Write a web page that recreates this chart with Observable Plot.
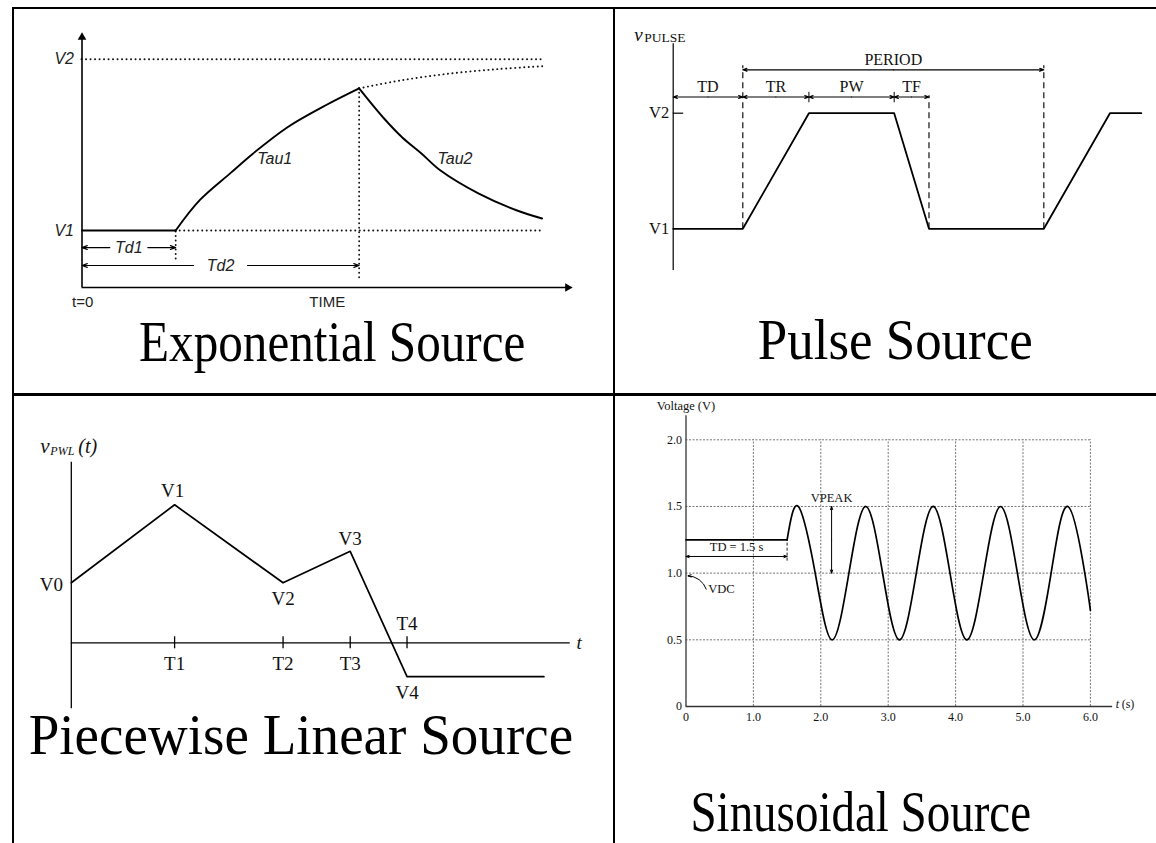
<!DOCTYPE html>
<html><head><meta charset="utf-8">
<script src="https://cdn.jsdelivr.net/npm/d3@7"></script>
<script src="https://cdn.jsdelivr.net/npm/@observablehq/plot@0.6"></script>
<style>
html,body{margin:0;padding:0;background:#fff;}
#stage{position:relative;width:1156px;height:843px;overflow:hidden;background:#fff;}
#stage svg{position:absolute;left:0;top:0;}
.bar{position:absolute;background:#000;}
.cap{position:absolute;font-family:"Liberation Serif","Times New Roman",serif;font-size:54px;line-height:40px;white-space:nowrap;color:#000;transform-origin:center center;}
</style></head><body><div id="stage"></div>
<script>
// ---------- Exponential source ----------
const expLevelNames = ["V1", "V2"];
const expLevels = [1, 4];
const expDelayNames = ["Td1", "Td2"];
const expDelays = [1.91, 5.65];
const expRiseT = [1.91, 2.40, 3.02, 3.49, 4.19, 4.96, 5.65];
const expRiseV = [1.00, 1.53, 2.00, 2.35, 2.81, 3.19, 3.49];
const expFallT = [5.65, 6.14, 6.53, 6.92, 7.31, 8.08, 8.87, 9.38];
const expFallV = [3.49, 2.98, 2.63, 2.35, 2.05, 1.65, 1.35, 1.21];
const expTrendT = [5.65, 6.5, 7.5, 8.5, 9.41];
const expTrendV = [3.49, 3.63, 3.75, 3.83, 3.88];
const expTimeEnd = 9.41, expAxisT = 10, expAxisV = 4.47;

// ---------- Pulse source ----------
const pulseLevelNames = ["V1", "V2"];
const pulseLevels = [1, 2];
const pulseT = [0, 2, 3.9, 6.35, 7.35, 10.65, 12.55, 13.45];
const pulseV = [1, 1, 2, 2, 1, 1, 2, 2];
const pulseSpanNames = ["TD", "TR", "PW", "TF"];
const pulseSpanStart = [0, 2, 3.9, 6.35];
const pulseSpanEnd = [2, 3.9, 6.35, 7.35];
const pulsePeriodName = "PERIOD";
const pulsePeriod = [2, 10.65];

// ---------- Piecewise linear source ----------
const pwlNames = ["V0", "V1", "V2", "V3", "V4"];
const pwlT = [0, 2, 4.1, 5.4, 6.5];
const pwlV = [2, 4.6, 2, 3.05, -1.13];
const pwlTickNames = ["T1", "T2", "T3", "T4"];
const pwlEndT = 9.15;

// ---------- Sinusoidal source ----------
const sinYTicks = [0, 0.5, 1.0, 1.5, 2.0];
const sinYTickLabels = ["0", "0.5", "1.0", "1.5", "2.0"];
const sinXTicks = [0, 1, 2, 3, 4, 5, 6];
const sinXTickLabels = ["0", "1.0", "2.0", "3.0", "4.0", "5.0", "6.0"];
const sinDelayT = [0, 1.5];
const sinDelayV = [1.25, 1.25];
const sinWaveT = [1.5, 1.667, 1.917, 2.167, 2.417, 2.667, 2.917, 3.167, 3.417, 3.667, 3.917, 4.167, 4.417, 4.667, 4.917, 5.167, 5.417, 5.667, 5.917, 6.0];
const sinWaveV = [1.25, 1.5, 1.0, 0.5, 1.0, 1.5, 1.0, 0.5, 1.0, 1.5, 1.0, 0.5, 1.0, 1.5, 1.0, 0.5, 1.0, 1.5, 1.0, 0.72];
const sinVDC = 1.0, sinVPeak = 1.5, sinTD = 1.5;

// ---------- helpers ----------
const W = 1156, H = 843;
const stage = document.getElementById("stage");
function panel({left, right, top, bottom, xDomain, yDomain, marks, style = {}}) {
  const svg = Plot.plot({
    width: W, height: H,
    marginLeft: left, marginRight: W - right, marginTop: top, marginBottom: H - bottom,
    x: {domain: xDomain, axis: null}, y: {domain: yDomain, axis: null},
    style: {background: "transparent", overflow: "visible", ...style},
    marks
  });
  stage.appendChild(svg);
}
const pts = (ts, vs) => ts.map((t, i) => ({t, v: vs[i]}));
const dotted = {stroke: "#111", strokeWidth: 1.9, strokeDasharray: "0.1,4.4", strokeLinecap: "round"};
const hersh = {fontFamily: "Liberation Sans, Arial, sans-serif", fill: "#222", fontSize: 15};
const serif = {fontFamily: "Liberation Serif, Times New Roman, serif", fill: "#111"};

// ---------- Panel 1: exponential ----------
{
  const rise = pts(expRiseT, expRiseV), fall = pts(expFallT, expFallV), trend = pts(expTrendT, expTrendV);
  const dimLevels = [0.70, 0.386];
  const gaps = [19, 27];
  const marks = [
    Plot.ruleY([expLevels[1]], {x1: 0, x2: expTimeEnd, y: d => d, ...dotted}),
    Plot.ruleY([expLevels[0]], {x1: expDelays[0], x2: expTimeEnd, y: d => d, ...dotted}),
    Plot.ruleX([expDelays[0]], {x: d => d, y1: 0.5, y2: expLevels[0], ...dotted}),
    Plot.ruleX([expDelays[1]], {x: d => d, y1: 0.17, y2: expRiseV[expRiseV.length - 1], ...dotted}),
    Plot.line(trend, {x: "t", y: "v", curve: "catmull-rom", ...dotted}),
    Plot.line(pts([0, expDelays[0]], [expLevels[0], expLevels[0]]), {x: "t", y: "v", strokeWidth: 1.9}),
    Plot.line(rise, {x: "t", y: "v", curve: "catmull-rom", strokeWidth: 1.9}),
    Plot.line(fall, {x: "t", y: "v", curve: "catmull-rom", strokeWidth: 1.9}),
    Plot.ruleX([0], {y1: 0, y2: expAxisV - 0.1, strokeWidth: 1.6}),
    Plot.ruleY([0], {x1: 0, x2: expAxisT - 0.1, strokeWidth: 1.6}),
    Plot.dot([0], {x: 0, y: expAxisV, symbol: "triangle", r: 3.2, fill: "#000", stroke: "none", dy: 4.8}),
    Plot.dot([0], {x: expAxisT, y: 0, symbol: "triangle", r: 3.2, fill: "#000", stroke: "none", rotate: 90, dx: -4.8}),
    Plot.text(expLevelNames, {x: 0, y: (d, i) => expLevels[i], text: d => d, dx: -8, textAnchor: "end", ...hersh, fontSize: 16, fontStyle: "italic"}),
    Plot.text(["Tau1"], {x: expRiseT[3], y: expRiseV[3], text: d => d, dx: 4, dy: 5, textAnchor: "start", ...hersh, fontSize: 16, fontStyle: "italic"}),
    Plot.text(["Tau2"], {x: expFallT[3], y: expFallV[3], text: d => d, dx: 16, dy: 5, textAnchor: "start", ...hersh, fontSize: 16, fontStyle: "italic"}),
    Plot.text(["t=0"], {x: 0, y: 0, text: d => d, dx: -10, dy: 15, textAnchor: "start", ...hersh}),
    Plot.text(["TIME"], {x: expAxisT / 2, y: 0, text: d => d, dy: 15, ...hersh}),
  ];
  expDelays.forEach((end, i) => {
    const lv = dimLevels[i];
    marks.push(
      Plot.arrow([{a: end / 2, b: 0}, {a: end / 2, b: end}], {x1: "a", x2: "b", y1: () => lv, y2: () => lv, insetStart: gaps[i], headLength: 7, headAngle: 40, strokeWidth: 1.2}),
      Plot.text([expDelayNames[i]], {x: end / 2, y: lv, text: d => d, ...hersh, fontSize: 16, fontStyle: "italic"})
    );
  });
  panel({left: 81.5, right: 572, top: 32, bottom: 287, xDomain: [0, expAxisT], yDomain: [0, expAxisV], marks});
}

// ---------- Panel 2: pulse ----------
{
  const wave = pts(pulseT, pulseV);
  const spanLevel = 2.14, periodLevel = 2.375;
  const dashed = {stroke: "#111", strokeWidth: 1.2, strokeDasharray: "6,4"};
  const spans = pulseSpanNames.map((name, i) => ({name, s: pulseSpanStart[i], e: pulseSpanEnd[i], m: (pulseSpanStart[i] + pulseSpanEnd[i]) / 2}));
  const arrowsOf = (arr, lv) => arr.flatMap(d => [{a: d.m, b: d.s, lv}, {a: d.m, b: d.e, lv}]);
  const period = [{name: pulsePeriodName, s: pulsePeriod[0], e: pulsePeriod[1], m: (pulsePeriod[0] + pulsePeriod[1]) / 2}];
  const marks = [
    Plot.ruleX([0], {y1: 0.64, y2: 2.6, strokeWidth: 1.2}),
    Plot.ruleY([pulseLevels[1]], {x1: 0, x2: 0.3, y: d => d, strokeWidth: 1.2}),
    Plot.ruleX([pulsePeriod[0], pulsePeriod[1]], {x: d => d, y1: pulseLevels[0], y2: periodLevel + 0.035, ...dashed}),
    Plot.ruleX([pulseSpanEnd[3]], {x: d => d, y1: pulseLevels[0], y2: spanLevel + 0.01, ...dashed}),
    Plot.ruleX([pulseSpanEnd[1], pulseSpanEnd[2]], {x: d => d, y1: spanLevel - 0.05, y2: spanLevel + 0.04, strokeWidth: 1}),
    Plot.line(wave, {x: "t", y: "v", strokeWidth: 1.8}),
    Plot.arrow(arrowsOf(spans, spanLevel), {x1: "a", x2: "b", y1: "lv", y2: "lv", headLength: 6, headAngle: 40, strokeWidth: 1.1}),
    Plot.arrow(arrowsOf(period, periodLevel), {x1: "a", x2: "b", y1: "lv", y2: "lv", headLength: 6, headAngle: 40, strokeWidth: 1.1}),
    Plot.text(spans, {x: "m", y: spanLevel, text: "name", dy: -10, ...serif, fontSize: 16}),
    Plot.text(period, {x: "m", y: periodLevel, text: "name", dy: -10, ...serif, fontSize: 16}),
    Plot.text(pulseLevelNames, {x: 0, y: (d, i) => pulseLevels[i], text: d => d, dx: -4, textAnchor: "end", ...serif, fontSize: 16.5}),
    Plot.text(["v"], {x: 0, y: 2.6, text: d => d, dx: -39, dy: -9, textAnchor: "start", ...serif, fontSize: 19, fontStyle: "italic"}),
    Plot.text(["PULSE"], {x: 0, y: 2.6, text: d => d, dx: -29, dy: -6, textAnchor: "start", ...serif, fontSize: 13.5}),
  ];
  panel({left: 672.7, right: 672.7 + 13.45 * 34.8, top: 343.9 - 2.6 * 115.6, bottom: 343.9, xDomain: [0, 13.45], yDomain: [0, 2.6], marks});
}

// ---------- Panel 3: piecewise linear ----------
{
  const path = pts([...pwlT, pwlEndT], [...pwlV, pwlV[pwlV.length - 1]]);
  const labelOff = [[-20, 2], [-2, -14], [0, 16], [0, -12], [0, 16]];
  const tickOff = [21, 21, 21, -19];
  const marks = [
    Plot.ruleX([0], {y1: -2.2, y2: 6.02, strokeWidth: 1.3}),
    Plot.ruleY([0], {x1: 0, x2: 9.66, strokeWidth: 1.3}),
    Plot.ruleX(pwlT.slice(1), {x: d => d, y1: -0.2, y2: 0.2, strokeWidth: 1.3}),
    Plot.line(path, {x: "t", y: "v", strokeWidth: 1.7}),
    ...pwlNames.map((name, i) => Plot.text([name], {x: pwlT[i], y: pwlV[i], text: d => d, dx: labelOff[i][0], dy: labelOff[i][1], ...serif, fontSize: 19})),
    ...pwlTickNames.map((name, i) => Plot.text([name], {x: pwlT[i + 1], y: 0, text: d => d, dy: tickOff[i], ...serif, fontSize: 19})),
    Plot.text(["t"], {x: 9.66, y: 0, text: d => d, dx: 9, ...serif, fontSize: 19, fontStyle: "italic"}),
    Plot.text(["v"], {x: 0, y: 6.02, text: d => d, dx: -31, dy: -16, textAnchor: "start", ...serif, fontSize: 21, fontStyle: "italic"}),
    Plot.text(["PWL"], {x: 0, y: 6.02, text: d => d, dx: -21, dy: -11, textAnchor: "start", ...serif, fontSize: 12, fontStyle: "italic"}),
    Plot.text(["(t)"], {x: 0, y: 6.02, text: d => d, dx: 7, dy: -16, textAnchor: "start", ...serif, fontSize: 20, fontStyle: "italic"}),
  ];
  panel({left: 70.8, right: 70.8 + 9.66 * 51.65, top: 642.3 - 6.02 * 30, bottom: 642.3 + 2.79 * 30, xDomain: [0, 9.66], yDomain: [-2.79, 6.02], marks});
}

// ---------- Panel 4: sinusoidal ----------
{
  const grid = {stroke: "#666", strokeWidth: 0.9, strokeDasharray: "2,1.5"};
  const marks = [
    Plot.ruleY(sinYTicks.slice(1), {x1: 0, x2: 6, y: d => d, ...grid}),
    Plot.ruleX(sinXTicks.slice(1), {x: d => d, y1: 0, y2: 2, ...grid}),
    Plot.ruleX([0], {y1: 0, y2: 2.18, strokeWidth: 1.3, stroke: "#333"}),
    Plot.ruleY([0], {x1: 0, x2: 6.33, strokeWidth: 1.3, stroke: "#333"}),
    Plot.text(sinYTickLabels, {x: 0, y: (d, i) => sinYTicks[i], text: d => d, dx: -4, textAnchor: "end", ...serif, fontSize: 12}),
    Plot.text(sinXTickLabels, {x: (d, i) => sinXTicks[i], y: 0, text: d => d, dy: 11, ...serif, fontSize: 12}),
    Plot.text(["t"], {x: 6.33, y: 0, text: d => d, dx: 3, dy: -2, textAnchor: "start", ...serif, fontSize: 12, fontStyle: "italic"}),
    Plot.text(["(s)"], {x: 6.33, y: 0, text: d => d, dx: 9, dy: -2, textAnchor: "start", ...serif, fontSize: 12}),
    Plot.text(["Voltage (V)"], {x: 0, y: 2.18, text: d => d, dy: -10, ...serif, fontSize: 12.5}),
    Plot.line(pts(sinDelayT, sinDelayV), {x: "t", y: "v", strokeWidth: 1.7}),
    Plot.line(pts(sinWaveT, sinWaveV), {x: "t", y: "v", curve: "natural", strokeWidth: 1.7}),
    Plot.arrow([{a: sinTD / 2, b: 0}, {a: sinTD / 2, b: sinTD}], {x1: "a", x2: "b", y1: () => 1.125, y2: () => 1.125, headLength: 5, headAngle: 40, strokeWidth: 1}),
    Plot.ruleX([sinTD], {x: d => d, y1: 1.09, y2: sinDelayV[1], strokeWidth: 0.9, strokeDasharray: "3,2"}),
    Plot.text(["TD = 1.5 s"], {x: sinTD / 2, y: 1.125, text: d => d, dy: -9, ...serif, fontSize: 12.5}),
    Plot.arrow([{a: (sinVDC + sinVPeak) / 2, b: sinVDC}, {a: (sinVDC + sinVPeak) / 2, b: sinVPeak}], {x1: () => 2.16, x2: () => 2.16, y1: "a", y2: "b", headLength: 5, headAngle: 40, strokeWidth: 1}),
    Plot.text(["VPEAK"], {x: 2.16, y: sinVPeak, text: d => d, dy: -8, ...serif, fontSize: 12.5}),
    Plot.arrow([{}], {x1: () => 0.3, y1: () => 0.88, x2: () => 0.03, y2: () => 0.98, bend: -35, headLength: 5, headAngle: 40, strokeWidth: 1}),
    Plot.text(["VDC"], {x: 0.3, y: 0.88, text: d => d, dx: 2, textAnchor: "start", ...serif, fontSize: 12.5}),
  ];
  panel({left: 685.5, right: 685.5 + 6 * 67.4, top: 706 - 2 * 133.35, bottom: 706, xDomain: [0, 6], yDomain: [0, 2], marks});
}

// ---------- table frame ----------
const bars = [
  {l: 12, t: 7, w: 1144, h: 2},
  {l: 12, t: 7, w: 2, h: 836},
  {l: 613, t: 7, w: 2, h: 836},
  {l: 12, t: 393, w: 1144, h: 2.5},
];
bars.forEach(b => { const d = document.createElement("div"); d.className = "bar"; Object.assign(d.style, {left: b.l + "px", top: b.t + "px", width: b.w + "px", height: b.h + "px"}); stage.appendChild(d); });

// ---------- captions ----------
const capText = ["Exponential Source", "Pulse Source", "Piecewise Linear Source", "Sinusoidal Source"];
const capCx = [332, 895, 301, 860];
const capBase = [360, 358, 753, 830];
const capSX = [0.91, 0.98, 1.02, 0.87];
capText.forEach((t, i) => {
  const d = document.createElement("div"); d.className = "cap"; d.textContent = t;
  stage.appendChild(d);
  const w = d.offsetWidth;
  d.style.left = (capCx[i] - w / 2) + "px";
  d.style.top = (capBase[i] - 38) + "px";
  d.style.transform = `scale(${capSX[i]}, 1.06)`;
});
</script></body></html>
